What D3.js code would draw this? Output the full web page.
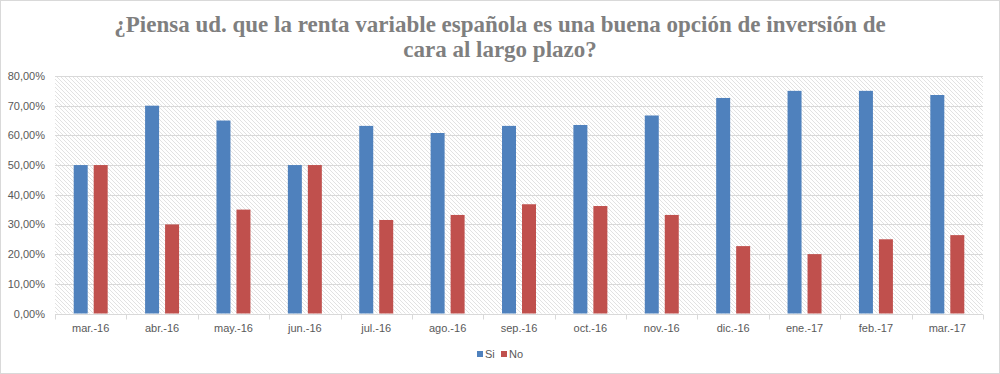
<!DOCTYPE html>
<html>
<head>
<meta charset="utf-8">
<script src="https://cdn.jsdelivr.net/npm/d3@7"></script>
<style>
  body { margin: 0; background: #fff; }
  svg { display: block; }
</style>
</head>
<body>
<div id="chart"></div>
<script>
// Datos del gráfico
const meses = ["mar.-16", "abr.-16", "may.-16", "jun.-16", "jul.-16", "ago.-16", "sep.-16",
               "oct.-16", "nov.-16", "dic.-16", "ene.-17", "feb.-17", "mar.-17"];
const si = [50, 70, 65, 50, 63.2, 60.8, 63.2, 63.5, 66.7, 72.6, 75, 75, 73.6];
const no = [50, 30, 35, 50, 31.5, 33.2, 36.8, 36.2, 33.2, 22.7, 20, 25, 26.4];
const series = ["Si", "No"];
const colores = ["#4f81bd", "#c0504d"];
const yTicks = [0, 10, 20, 30, 40, 50, 60, 70, 80];

const W = 1000, H = 374;
const margin = { top: 76, right: 17, bottom: 60.5, left: 55 };

const svg = d3.select("#chart").append("svg")
    .attr("width", W)
    .attr("height", H);

// Patrón rayado del fondo
const defs = svg.append("defs");
const pat = defs.append("pattern")
    .attr("id", "rayas")
    .attr("patternUnits", "userSpaceOnUse")
    .attr("width", 4)
    .attr("height", 4);
pat.append("rect").attr("width", 4).attr("height", 4).attr("fill", "#fff");
pat.append("path")
    .attr("d", "M-1,-1 L5,5 M-1,3 L1,5 M3,-1 L5,1")
    .attr("stroke", "#e2e2e2")
    .attr("stroke-width", 1);

// Borde del gráfico
svg.append("rect")
    .attr("x", 0.5).attr("y", 0.5)
    .attr("width", W - 1).attr("height", H - 1)
    .attr("fill", "#fff")
    .attr("stroke", "#d9d9d9");

// Título
const titulo = svg.append("text")
    .attr("text-anchor", "middle")
    .attr("fill", "#7f7f7f")
    .style("font-family", "'Liberation Serif', 'DejaVu Serif', serif")
    .style("font-weight", "bold")
    .style("font-size", "23px");
titulo.append("tspan").attr("x", 500).attr("y", 32)
    .text("¿Piensa ud. que la renta variable española es una buena opción de inversión de");
titulo.append("tspan").attr("x", 500).attr("y", 57)
    .text("cara al largo plazo?");

const x0 = d3.scaleBand()
    .domain(meses)
    .range([margin.left, W - margin.right])
    .paddingInner(0.524)
    .paddingOuter(0.262);

const x1 = d3.scaleBand()
    .domain(series)
    .range([0, x0.bandwidth()])
    .paddingInner(0.3);

const y = d3.scaleLinear()
    .domain([0, 80])
    .range([H - margin.bottom, margin.top]);

const plot = svg.append("g");

// Fondo rayado del área de trazado
plot.append("rect")
    .attr("x", margin.left)
    .attr("y", y(80))
    .attr("width", W - margin.right - margin.left)
    .attr("height", y(0) - y(80))
    .attr("fill", "url(#rayas)");

// Líneas de cuadrícula
plot.selectAll("line.grid")
    .data(yTicks.slice(1))
    .join("line")
    .attr("class", "grid")
    .attr("x1", margin.left)
    .attr("x2", W - margin.right)
    .attr("y1", d => Math.round(y(d)) + 0.5)
    .attr("y2", d => Math.round(y(d)) + 0.5)
    .attr("stroke", "#d9d9d9")
    .attr("stroke-width", 1);

// Eje Y
svg.append("g")
    .selectAll("text")
    .data(yTicks)
    .join("text")
    .attr("x", 45)
    .attr("y", d => y(d) + 4)
    .attr("text-anchor", "end")
    .attr("fill", "#595959")
    .style("font-family", "'Liberation Sans', Arial, sans-serif")
    .style("font-size", "11px")
    .text(d => d.toFixed(2).replace(".", ",") + "%");

// Barras
const datos = meses.map((m, i) => ({ mes: m, valores: [si[i], no[i]] }));

const grupos = plot.selectAll("g.mes")
    .data(datos)
    .join("g")
    .attr("class", "mes")
    .attr("transform", d => `translate(${x0(d.mes)},0)`);

grupos.selectAll("rect")
    .data(d => series.map((s, j) => ({ serie: s, valor: d.valores[j], color: colores[j] })))
    .join("rect")
    .attr("x", d => x1(d.serie))
    .attr("width", x1.bandwidth())
    .attr("y", d => y(d.valor))
    .attr("height", d => y(0) - y(d.valor))
    .attr("fill", d => d.color);

// Eje X
const baseY = Math.round(y(0)) + 0.5;
svg.append("line")
    .attr("x1", margin.left).attr("x2", W - margin.right)
    .attr("y1", baseY).attr("y2", baseY)
    .attr("stroke", "#d9d9d9");

const step = x0.step();
const bordes = d3.range(meses.length + 1).map(i => margin.left + i * step);
svg.selectAll("line.tick")
    .data(bordes)
    .join("line")
    .attr("class", "tick")
    .attr("x1", d => Math.round(d) + 0.5)
    .attr("x2", d => Math.round(d) + 0.5)
    .attr("y1", baseY)
    .attr("y2", baseY + 5)
    .attr("stroke", "#d9d9d9");

svg.append("g")
    .selectAll("text")
    .data(meses)
    .join("text")
    .attr("x", d => x0(d) + x0.bandwidth() / 2)
    .attr("y", 332)
    .attr("text-anchor", "middle")
    .attr("fill", "#595959")
    .style("font-family", "'Liberation Sans', Arial, sans-serif")
    .style("font-size", "11px")
    .text(d => d);

// Leyenda
const leyenda = svg.append("g");
const posLeyenda = [477, 501];
series.forEach((s, i) => {
    leyenda.append("rect")
        .attr("x", posLeyenda[i])
        .attr("y", 351)
        .attr("width", 6)
        .attr("height", 6)
        .attr("fill", colores[i]);
    leyenda.append("text")
        .attr("x", posLeyenda[i] + 8)
        .attr("y", 358)
        .attr("fill", "#595959")
        .style("font-family", "'Liberation Sans', Arial, sans-serif")
        .style("font-size", "11px")
        .text(s);
});
</script>
</body>
</html>
